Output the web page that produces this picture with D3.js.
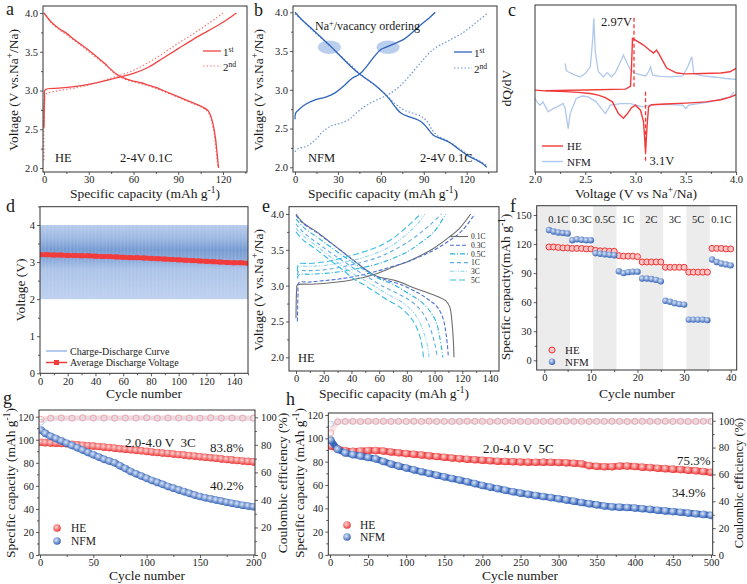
<!DOCTYPE html>
<html>
<head>
<meta charset="utf-8">
<script src="https://cdn.jsdelivr.net/npm/d3@7"></script>
<style>
body { margin: 0; background: #fff; }
</style>
</head>
<body>
<script>
'use strict';

// ---- a: HE, 0.1C, 1st / 2nd cycle (capacity, voltage)
const heCh1 = [[0,2.52],[0.4,2.9],[0.8,3.01],[10,3.03],[20,3.05],[30,3.08],[40,3.12],[50,3.17],[60,3.22],[70,3.3],[80,3.42],[90,3.54],[100,3.66],[110,3.77],[120,3.88],[129,4.0]];
const heDis1 = [[0,4.0],[2,3.95],[5,3.88],[10,3.8],[15,3.74],[20,3.66],[30,3.52],[40,3.36],[48,3.22],[55,3.15],[60,3.12],[65,3.1],[70,3.07],[75,3.04],[80,3.0],[90,2.92],[100,2.84],[106,2.79],[110,2.74],[112,2.66],[113.5,2.55],[115,2.38],[116,2.2],[117,2.0]];
const heCh2 = [[0,2.1],[0.3,2.9],[1,2.95],[10,3.0],[20,3.03],[30,3.07],[40,3.13],[50,3.19],[60,3.26],[70,3.36],[80,3.48],[90,3.61],[100,3.73],[110,3.86],[120,4.0]];
const heDis2 = [[0,4.0],[5,3.87],[10,3.79],[20,3.65],[30,3.5],[40,3.35],[48,3.21],[55,3.14],[60,3.11],[70,3.06],[80,2.99],[90,2.91],[100,2.83],[106,2.78],[110,2.72],[112,2.63],[114,2.45],[115.5,2.2],[116.5,2.0]];

// ---- b: NFM, 0.1C
const nfmCh1 = [[0,2.62],[0.5,2.7],[3,2.75],[8,2.82],[14,2.87],[22,2.91],[28,2.96],[34,3.05],[40,3.15],[45,3.2],[50,3.3],[55,3.42],[60,3.52],[65,3.56],[70,3.6],[76,3.65],[82,3.74],[88,3.84],[94,3.93],[98,4.0]];
const nfmDis1 = [[0,4.0],[5,3.9],[11,3.8],[18,3.68],[25,3.56],[32,3.43],[38,3.32],[44,3.22],[50,3.14],[56,3.06],[62,2.96],[66,2.88],[70,2.78],[74,2.7],[80,2.65],[86,2.61],[90,2.56],[94,2.47],[97,2.41],[102,2.37],[108,2.32],[114,2.24],[120,2.16],[126,2.1],[131,2.05],[134,2.0]];
const nfmCh2 = [[0,2.2],[2,2.24],[8,2.27],[14,2.35],[20,2.47],[26,2.54],[32,2.57],[38,2.62],[44,2.72],[50,2.8],[56,2.86],[62,2.91],[68,2.97],[74,3.06],[80,3.18],[86,3.31],[92,3.44],[98,3.54],[104,3.6],[110,3.66],[116,3.72],[122,3.8],[128,3.89],[134,3.98],[135,4.0]];
const nfmDis2 = [[0,3.98],[6,3.88],[12,3.77],[20,3.64],[30,3.47],[40,3.3],[46,3.2],[52,3.11],[58,3.03],[64,2.93],[70,2.82],[76,2.74],[82,2.7],[88,2.66],[92,2.6],[96,2.48],[100,2.4],[106,2.35],[112,2.28],[118,2.2],[124,2.13],[130,2.07],[134,2.02]];
const orderingSpots = [[24,3.55],[65,3.55]];

// ---- c: dQ/dV (voltage, arbitrary units)
const heCvCh = [[2.1,-0.25],[2.5,-0.18],[2.9,-0.08],[2.95,0.25],[2.96,2.5],[2.97,6.0],[3.0,5.8],[3.08,5.2],[3.15,4.5],[3.18,4.25],[3.21,4.6],[3.24,4.0],[3.31,2.45],[3.41,1.85],[3.5,1.75],[3.67,1.8],[3.85,1.85],[3.94,2.0],[4.0,2.4]];
const heCvDis = [[2.0,-0.2],[2.1,-0.28],[2.3,-0.38],[2.43,-0.46],[2.55,-0.6],[2.63,-0.8],[2.7,-1.1],[2.77,-1.6],[2.83,-3.0],[2.88,-3.55],[2.92,-3.0],[2.96,-2.3],[3.0,-2.0],[3.05,-2.6],[3.08,-4.0],[3.1,-7.6],[3.115,-4.5],[3.13,-2.2],[3.16,-1.95],[3.3,-1.85],[3.5,-1.75],[3.7,-1.6],[3.85,-1.35],[3.95,-1.0],[4.0,-0.75]];
const nfmCvCh = [[2.3,3.0],[2.31,2.2],[2.33,2.0],[2.4,1.6],[2.45,1.4],[2.5,1.8],[2.55,2.6],[2.575,6.0],[2.585,8.4],[2.6,4.4],[2.63,2.0],[2.68,1.4],[2.72,1.9],[2.76,1.4],[2.8,1.9],[2.85,3.2],[2.88,4.0],[2.91,3.2],[2.95,2.2],[3.0,1.8],[3.1,1.5],[3.13,2.0],[3.15,2.6],[3.17,1.6],[3.25,1.45],[3.35,1.4],[3.47,1.5],[3.52,2.6],[3.56,3.8],[3.58,1.8],[3.67,1.5],[3.8,1.35],[3.9,1.2],[4.0,1.1]];
const nfmCvDis = [[2.0,-1.2],[2.02,-1.6],[2.05,-2.0],[2.08,-1.6],[2.13,-2.8],[2.18,-2.4],[2.22,-2.2],[2.28,-1.8],[2.3,-2.4],[2.33,-4.8],[2.35,-3.0],[2.41,-1.2],[2.47,-0.9],[2.53,-1.0],[2.61,-1.6],[2.66,-2.4],[2.7,-3.0],[2.75,-2.0],[2.85,-1.8],[2.95,-1.8],[3.07,-2.2],[3.14,-2.0],[3.27,-1.9],[3.47,-2.0],[3.5,-2.4],[3.53,-2.0],[3.74,-1.6],[3.94,-1.0],[3.98,-0.4]];
const cPeaks = [{v: 2.985, from: 0.2, to: 8.6, label: '2.97V'}, {v: 3.1, from: -0.4, to: -8.8, label: '3.1V'}];

// ---- d: long cycling voltage
const dCycles = d3.range(0, 151);
const dWindow = [2, 4];
const dAvgCycles = d3.range(0, 151, 5);
const dAvg = [3.20,3.20,3.19,3.19,3.18,3.18,3.17,3.17,3.16,3.15,3.15,3.14,3.13,3.12,3.12,3.11,3.10,3.09,3.08,3.07,3.06,3.05,3.04,3.03,3.02,3.01,3.00,2.99,2.98,2.98,2.97];

// ---- e: HE rate curves
const eRates = ['0.1C', '0.3C', '0.5C', '1C', '3C', '5C'];
const eCharge = [
  [[0,2.55],[0.5,2.95],[1,3.01],[10,3.02],[20,3.03],[30,3.05],[40,3.08],[50,3.12],[55,3.15],[60,3.18],[65,3.22],[70,3.26],[80,3.33],[90,3.42],[100,3.53],[110,3.67],[118,3.8],[126,4.0]],
  [[1,2.5],[1.5,2.9],[2,3.04],[10,3.05],[20,3.07],[30,3.09],[40,3.12],[50,3.16],[60,3.21],[70,3.27],[80,3.33],[90,3.41],[100,3.5],[110,3.62],[120,3.77],[129,4.0]],
  [[1,3.1],[2,3.15],[10,3.16],[20,3.17],[30,3.19],[40,3.22],[50,3.26],[60,3.31],[70,3.38],[80,3.47],[90,3.6],[100,3.76],[108,4.0]],
  [[1,3.15],[2,3.2],[10,3.21],[20,3.22],[30,3.25],[40,3.29],[50,3.34],[60,3.4],[70,3.49],[80,3.6],[90,3.74],[98,3.87],[105,4.0]],
  [[1,3.18],[2,3.26],[10,3.27],[20,3.28],[30,3.31],[40,3.35],[50,3.4],[60,3.47],[70,3.57],[80,3.72],[88,3.87],[93,4.0]],
  [[1,3.2],[2,3.3],[10,3.31],[20,3.33],[30,3.37],[40,3.42],[50,3.48],[60,3.55],[70,3.66],[80,3.82],[90,4.0]]
];
const eDischarge = [
  [[0,4.0],[5,3.88],[15,3.75],[25,3.6],[35,3.45],[45,3.3],[52,3.2],[57,3.14],[62,3.11],[72,3.07],[85,2.97],[95,2.9],[102,2.85],[108,2.79],[111,2.7],[112.5,2.5],[113.5,2.25],[114,2.0]],
  [[0,3.98],[5,3.87],[15,3.74],[25,3.6],[35,3.45],[45,3.3],[52,3.2],[58,3.13],[65,3.08],[75,3.02],[88,2.9],[96,2.8],[102,2.7],[106,2.55],[108.5,2.3],[110,2.0]],
  [[0,3.93],[5,3.82],[15,3.68],[25,3.54],[35,3.4],[45,3.27],[55,3.15],[62,3.08],[70,3.02],[82,2.88],[90,2.78],[96,2.66],[101,2.5],[104,2.25],[106,2.0]],
  [[0,3.86],[5,3.75],[15,3.6],[25,3.46],[35,3.33],[45,3.2],[52,3.12],[60,3.02],[70,2.92],[80,2.82],[88,2.7],[93,2.57],[97,2.4],[100,2.2],[102,2.0]],
  [[0,3.8],[5,3.7],[15,3.55],[25,3.4],[35,3.25],[45,3.12],[52,3.05],[60,2.95],[70,2.84],[78,2.75],[85,2.62],[89,2.5],[93,2.3],[95,2.15],[96,2.0]],
  [[0,3.75],[5,3.64],[15,3.5],[25,3.35],[35,3.2],[42,3.09],[50,3.0],[58,2.9],[66,2.8],[75,2.7],[82,2.57],[86,2.46],[90,2.25],[92,2.0]]
];

// ---- f: rate capability
const fStages = ['0.1C', '0.3C', '0.5C', '1C', '2C', '3C', '5C', '0.1C'];
const fCycles = d3.range(1, 41);
const fHE = [117,117,116.5,116,116, 115.5,115.5,115.5,115,115, 113.5,113,113,112.5,112.5, 108,107.5,107.5,107.5,107, 101.5,101.5,101.5,101.5,101.5, 96,96,96,96,96, 91,91,91,91,91, 115.5,115.5,115.5,115,115];
const fNFM = [134.5,133,132,131.5,131, 124,125,124.5,124,124, 110.5,110,109.5,109,108.5, 92,90,91,91.5,91.5, 84.5,84.5,84,83,81.5, 61.5,60.5,59,58,57.5, 42,42,42,42,41.5, 104,101.5,100,99,98];

// ---- g: 3C cycling, 200 cycles
const gCycles = d3.range(0, 201, 5).map(c => Math.max(c, 1));
const gHE = [97.8,97.5,97.2,97.0,96.8,96.5,96.0,95.6,95.2,94.8,94.5,94.1,93.6,93.2,92.7,92.2,91.8,91.3,90.8,90.4,89.9,89.4,89.0,88.5,88.1,87.6,87.2,86.7,86.2,85.8,85.3,84.8,84.4,83.9,83.4,82.9,82.5,82.0,81.6,81.2,80.8];
const gNFM = [108.4,105.5,103,101,99,97,95,93,91,89,87,85,83,81.5,80,77.5,75,72.5,70.5,68.5,66.5,64.7,63,61.3,59.5,58,56.5,55,53.5,52,50.7,49.7,48.7,47.7,46.8,45.8,44.9,44,43.2,42.5,41.9];
const gCeCycles = d3.range(0, 201, 10).map(c => Math.max(c, 1));
const gCeHE = [98.6,99.5,99.6,99.4,99.7,99.5,99.6,99.3,99.6,99.5,99.7,99.4,99.6,99.5,99.6,99.4,99.7,99.5,99.6,99.4,99.5];
const gCeNFM = [96.5,99.2,99.4,99.3,99.5,99.4,99.2,99.5,99.3,99.4,99.6,99.3,99.4,99.5,99.3,99.4,99.5,99.3,99.4,99.5,99.3];

// ---- h: 5C cycling, 500 cycles
const hCycles = d3.range(0, 501, 10).map(c => Math.max(c, 1));
const hHE = [93.5,91,89.3,88.8,89.2,89.6,89.5,89.1,88.3,87.6,86.9,86.3,85.7,85.0,84.4,83.8,83.2,82.6,82.1,81.6,81.2,80.8,80.4,80.1,79.9,79.7,79.6,79.5,79.6,79.5,79.3,79.0,78.6,78.2,76.6,76.0,75.6,75.7,76.2,76.3,75.8,75.3,74.9,74.4,74.0,73.6,73.2,72.7,72.2,71.6,70.8];
const hNFM = [98.5,90.5,87.5,86,84.8,83.6,82.4,80.2,78.0,76.2,74.6,73.0,71.4,69.9,68.4,67.0,65.6,64.2,62.8,61.2,59.6,58.2,56.9,55.5,54.2,53.0,52.0,51.0,50.1,49.2,48.2,47.2,46.1,45.0,44.0,43.0,42.0,41.3,41.0,40.7,40.3,39.7,39.1,38.4,37.8,37.2,36.6,36.0,35.4,34.8,34.0];
const hCeHE = [91,99.3,99.5,99.6,99.4,99.6,99.5,99.7,99.4,99.6, 99.5,99.6,99.4,99.7,99.5,99.6,99.4,99.5,99.7,99.5, 99.6,99.4,99.6,99.5,99.7,99.5,99.4,99.6,99.5,99.6, 99.4,99.7,99.5,99.6,99.4,99.5,99.6,99.7,99.5,99.4, 99.6,99.5,99.6,99.4,99.7,99.5,99.6,99.4,99.5,99.6,99.5];
const hCeNFM = [97.5,99.0,99.3,99.4,99.3,99.5,99.4,99.3,99.5,99.4, 99.3,99.5,99.4,99.6,99.3,99.4,99.5,99.3,99.4,99.5, 99.4,99.3,99.5,99.4,99.6,99.4,99.3,99.5,99.4,99.3, 99.5,99.4,99.6,99.3,99.4,99.5,99.4,99.3,99.5,99.4, 99.3,99.5,99.4,99.6,99.4,99.3,99.5,99.4,99.3,99.5,99.4];

// ------------------------------------------------------------------
const RED = '#f04545', BLUE = '#2f63b8', sup = s => `<tspan baseline-shift="super" font-size="70%">${s}</tspan>`;

const svg = d3.select('body').append('svg')
    .attr('width', 747)
    .attr('height', 584)
    .style('font-family', "'Liberation Serif', 'Times New Roman', serif");
const defs = svg.append('defs');
let clipN = 0;

function ball(id, c0, c1) {
    const rg = defs.append('radialGradient').attr('id', id)
        .attr('cx', '40%').attr('cy', '38%').attr('r', '65%');
    rg.append('stop').attr('offset', '0%').attr('stop-color', c0);
    rg.append('stop').attr('offset', '100%').attr('stop-color', c1);
}
ball('ballHE', '#ffd6d6', '#ea3232');
ball('ballNFM', '#dce7fa', '#3060b5');

function drawAxis(g, gen, tx, ty) {
    const a = g.append('g').attr('transform', `translate(${tx},${ty})`).call(gen);
    a.select('.domain').remove();
    a.attr('font-family', null).attr('font-size', 10.5);
    a.selectAll('.tick line').attr('stroke', '#333').attr('stroke-width', 0.8);
    a.selectAll('.tick text').attr('fill', '#222');
    return a;
}

// frame + axes, returns a clipped group for the marks
function panel(box, x, y, o) {
    const [l, t, r, b] = box;
    const g = svg.append('g');
    const id = 'clip' + (clipN++);
    defs.append('clipPath').attr('id', id)
        .append('rect').attr('x', l).attr('y', t).attr('width', r - l).attr('height', b - t);
    const plot = g.append('g').attr('clip-path', `url(#${id})`);
    if (o.xMinor) drawAxis(g, d3.axisBottom(x).tickValues(o.xMinor).tickSize(2).tickFormat(''), 0, b);
    drawAxis(g, d3.axisBottom(x).tickValues(o.xTicks).tickSize(3).tickPadding(1)
        .tickFormat(o.xFmt || d3.format('d')), 0, b);
    if (o.yTicks) {
        if (o.yMinor) drawAxis(g, d3.axisLeft(y).tickValues(o.yMinor).tickSize(2).tickFormat(''), l, 0);
        drawAxis(g, d3.axisLeft(y).tickValues(o.yTicks).tickSize(3).tickPadding(2)
            .tickFormat(o.yFmt || d3.format('d')), l, 0);
    }
    if (o.y2) {
        drawAxis(g, d3.axisRight(o.y2).tickValues(o.y2Minor).tickSize(2).tickFormat(''), r, 0);
        drawAxis(g, d3.axisRight(o.y2).tickValues(o.y2Ticks).tickSize(3).tickPadding(3)
            .tickFormat(d3.format('d')), r, 0);
    }
    g.append('rect').attr('x', l).attr('y', t).attr('width', r - l).attr('height', b - t)
        .attr('fill', 'none').attr('stroke', '#333').attr('stroke-width', 1);
    return plot;
}

function text(x, y, html, size, anchor) {
    return svg.append('text').attr('x', x).attr('y', y)
        .attr('font-size', size || 13.5).attr('fill', '#1a1a1a')
        .attr('text-anchor', anchor || 'start').style('white-space', 'pre').html(html);
}
function ytext(x, y, html, size) {
    return svg.append('text').attr('transform', `translate(${x},${y}) rotate(-90)`)
        .attr('font-size', size || 13.5).attr('fill', '#1a1a1a')
        .attr('text-anchor', 'middle').html(html);
}
const curve = (x, y) => d3.line().x(d => x(d[0])).y(d => y(d[1])).curve(d3.curveCatmullRom.alpha(0.5));
function path(g, d, gen, color, width, dash) {
    return g.append('path').datum(d).attr('d', gen).attr('fill', 'none')
        .attr('stroke', color).attr('stroke-width', width).attr('stroke-dasharray', dash || null);
}

const capTitle = `Specific capacity (mAh g${sup('-1')})`;
const voltTitle = `Voltage (V vs.Na${sup('+')}/Na)`;

// ================= a =================
const ax = d3.scaleLinear().domain([0, 120]).range([44, 223]);
const ay = d3.scaleLinear().domain([2, 4]).range([168, 13]);
const pa = panel([43, 6, 247, 172], ax, ay, {
    xTicks: d3.range(0, 121, 30), xMinor: d3.range(15, 136, 30),
    yTicks: d3.range(2, 4.01, 0.5), yMinor: d3.range(2.25, 4.1, 0.5), yFmt: d3.format('.1f')
});
path(pa, heCh2, curve(ax, ay), '#f47c7c', 1.2, '1.5,2');
path(pa, heDis2, curve(ax, ay), '#f47c7c', 1.2, '1.5,2');
path(pa, heCh1, curve(ax, ay), RED, 1.3);
path(pa, heDis1, curve(ax, ay), RED, 1.3);
svg.append('line').attr('x1', 203).attr('x2', 221).attr('y1', 51).attr('y2', 51).attr('stroke', RED).attr('stroke-width', 1.3);
svg.append('line').attr('x1', 203).attr('x2', 221).attr('y1', 66).attr('y2', 66).attr('stroke', '#f47c7c').attr('stroke-width', 1.2).attr('stroke-dasharray', '1.5,2');
text(223, 56, `1${sup('st')}`, 11);
text(223, 71, `2${sup('nd')}`, 11);
text(55, 162, 'HE', 12.5);
text(120, 162, '2-4V 0.1C', 12.5);
text(145, 198, capTitle, 13.5, 'middle');
ytext(18, 90, voltTitle);
text(6, 15, 'a', 18);

// ================= b =================
const bx = d3.scaleLinear().domain([0, 120]).range([295, 466.7]);
const by = d3.scaleLinear().domain([2, 4]).range([167.3, 12.3]);
const pb = panel([293, 6, 497, 172], bx, by, {
    xTicks: d3.range(0, 121, 30), xMinor: d3.range(15, 136, 30),
    yTicks: d3.range(2, 4.01, 0.5), yMinor: d3.range(2.25, 4.1, 0.5), yFmt: d3.format('.1f')
});
pb.selectAll('ellipse').data(orderingSpots).join('ellipse')
    .attr('cx', d => bx(d[0])).attr('cy', d => by(d[1]))
    .attr('rx', 11.5).attr('ry', 6.7).attr('fill', '#a9c2ea').attr('opacity', 0.8);
path(pb, nfmCh2, curve(bx, by), '#6f95d8', 1.2, '1.5,2');
path(pb, nfmDis2, curve(bx, by), '#6f95d8', 1.2, '1.5,2');
path(pb, nfmCh1, curve(bx, by), BLUE, 1.3);
path(pb, nfmDis1, curve(bx, by), BLUE, 1.3);
svg.append('line').attr('x1', 454).attr('x2', 472).attr('y1', 52).attr('y2', 52).attr('stroke', BLUE).attr('stroke-width', 1.3);
svg.append('line').attr('x1', 454).attr('x2', 472).attr('y1', 68).attr('y2', 68).attr('stroke', '#6f95d8').attr('stroke-width', 1.2).attr('stroke-dasharray', '1.5,2');
text(474, 57, `1${sup('st')}`, 11);
text(474, 73, `2${sup('nd')}`, 11);
text(315, 30, `Na${sup('+')}/vacancy ordering`, 12);
text(308, 162, 'NFM', 12.5);
text(420, 162, '2-4V 0.1C', 12.5);
text(383, 198, capTitle, 13.5, 'middle');
ytext(263, 90, voltTitle);
text(254, 16, 'b', 18);

// ================= c =================
const cx = d3.scaleLinear().domain([2, 4]).range([535, 736]);
const cy = d3.scaleLinear().domain([-10, 10]).range([172, 5]);
const pc = panel([535, 5, 736, 172], cx, cy, {
    xTicks: d3.range(2, 4.01, 0.5), xMinor: d3.range(2.25, 4, 0.5), xFmt: d3.format('.1f')
});
const cLine = d3.line().x(d => cx(d[0])).y(d => cy(d[1]));
path(pc, nfmCvCh, cLine, '#b0c8ee', 1.3);
path(pc, nfmCvDis, cLine, '#b0c8ee', 1.3);
path(pc, heCvCh, cLine, '#f23a3a', 1.4);
path(pc, heCvDis, cLine, '#f23a3a', 1.4);
cPeaks.forEach(p => {
    pc.append('line').attr('x1', cx(p.v)).attr('x2', cx(p.v)).attr('y1', cy(p.from)).attr('y2', cy(p.to))
        .attr('stroke', '#f23a3a').attr('stroke-width', 1.3).attr('stroke-dasharray', '4,2.5');
});
text(cx(cPeaks[0].v) - 2, 26, cPeaks[0].label, 12.5, 'end');
text(cx(cPeaks[1].v) + 4, 165, cPeaks[1].label, 12.5);
svg.append('line').attr('x1', 542).attr('x2', 563).attr('y1', 146).attr('y2', 146).attr('stroke', '#f23a3a').attr('stroke-width', 1.4);
svg.append('line').attr('x1', 542).attr('x2', 563).attr('y1', 161.5).attr('y2', 161.5).attr('stroke', '#b0c8ee').attr('stroke-width', 1.4);
text(567, 150, 'HE', 11);
text(567, 166, 'NFM', 11);
text(636, 198, `Voltage (V vs Na${sup('+')}/Na)`, 13.5, 'middle');
ytext(511, 88, 'dQ/dV');
text(508, 16, 'c', 18);

// ================= d =================
const dx = d3.scaleLinear().domain([0, 150]).range([40, 248]);
const dy = d3.scaleLinear().domain([0, 4]).range([373.3, 225]);
const pd = panel([40, 206.7, 248, 373.3], dx, dy, {
    xTicks: d3.range(0, 141, 20), xMinor: d3.range(10, 151, 20),
    yTicks: d3.range(0, 5), yMinor: d3.range(0.5, 4.6, 1)
});
const dg = defs.append('linearGradient').attr('id', 'dBand').attr('gradientUnits', 'userSpaceOnUse')
    .attr('x1', 0).attr('x2', 0).attr('y1', dy(dWindow[1])).attr('y2', dy(dWindow[0]));
[[0, '#b4c9eb'], [0.2, '#8eaedd'], [0.33, '#6790cc'], [0.45, '#7c9fd6'], [0.6, '#a7c0e6'], [1, '#bccff0']]
    .forEach(([o, c]) => dg.append('stop').attr('offset', o).attr('stop-color', c));
pd.append('rect').attr('x', dx(0)).attr('width', dx(150) - dx(0))
    .attr('y', dy(dWindow[1])).attr('height', dy(dWindow[0]) - dy(dWindow[1]))
    .attr('fill', 'url(#dBand)');
pd.selectAll('line.cyc').data(dCycles).join('line').attr('class', 'cyc')
    .attr('x1', d => dx(d)).attr('x2', d => dx(d))
    .attr('y1', dy(dWindow[1])).attr('y2', dy(dWindow[0]))
    .attr('stroke', '#d6e2f5').attr('stroke-width', 0.5).attr('opacity', 0.55);
const dPts = dAvg.map((v, i) => [dAvgCycles[i], v]);
path(pd, dPts, d3.line().x(d => dx(d[0])).y(d => dy(d[1])), '#f23c3c', 4.5);
pd.selectAll('rect.sq').data(dPts).join('rect').attr('class', 'sq')
    .attr('x', d => dx(d[0]) - 2.5).attr('y', d => dy(d[1]) - 2.5).attr('width', 5).attr('height', 5)
    .attr('fill', '#f23c3c');
svg.append('line').attr('x1', 46).attr('x2', 67).attr('y1', 351).attr('y2', 351).attr('stroke', '#9dbbe8').attr('stroke-width', 1.5);
svg.append('line').attr('x1', 46).attr('x2', 67).attr('y1', 362.5).attr('y2', 362.5).attr('stroke', '#f23c3c').attr('stroke-width', 1.5);
svg.append('rect').attr('x', 54).attr('y', 360).attr('width', 5).attr('height', 5).attr('fill', '#f23c3c');
text(70, 354.5, 'Charge-Discharge Curve', 10);
text(70, 366, 'Average Discharge Voltage', 10);
text(144, 398, 'Cycle number', 13.5, 'middle');
ytext(25, 290, 'Voltage (V)');
text(6, 212, 'd', 18);

// ================= e =================
const ex = d3.scaleLinear().domain([0, 140]).range([296, 490]);
const ey = d3.scaleLinear().domain([2, 4]).range([357.3, 214]);
const pe = panel([289, 206.7, 499, 371], ex, ey, {
    xTicks: d3.range(0, 141, 20), xMinor: d3.range(10, 141, 20),
    yTicks: d3.range(2, 4.01, 0.5), yMinor: d3.range(2.25, 4.1, 0.5), yFmt: d3.format('.1f')
});
const eColor = ['#6d6d6d', '#4c6fd4', '#27b3dc', '#5eaae2', '#8dd3ec', '#37bde4'];
const eDash = [null, '4,2', '5,2,1,2', '4,3', '4,1.5,1,1.5,1,1.5', '6,3'];
eRates.forEach((r, i) => {
    path(pe, eCharge[i], curve(ex, ey), eColor[i], 1.1, eDash[i]);
    path(pe, eDischarge[i], curve(ex, ey), eColor[i], 1.1, eDash[i]);
    const ly = 236.5 + i * 8.7;
    svg.append('line').attr('x1', 450).attr('x2', 468).attr('y1', ly).attr('y2', ly)
        .attr('stroke', eColor[i]).attr('stroke-width', 1.1).attr('stroke-dasharray', eDash[i]);
    text(471, ly + 2.6, r, 7.5);
});
text(298, 362, 'HE', 12.5);
text(394, 398, capTitle, 13.5, 'middle');
ytext(263, 290, voltTitle);
text(262, 212, 'e', 18);

// ================= f =================
const fx = d3.scaleLinear().domain([0, 40]).range([544.3, 730.7]);
const fy = d3.scaleLinear().domain([0, 150]).range([360.3, 215]);
const pf = panel([536.7, 205.7, 736.7, 370], fx, fy, {
    xTicks: d3.range(0, 41, 10), xMinor: d3.range(5, 40, 10),
    yTicks: d3.range(0, 151, 30), yMinor: d3.range(15, 151, 30)
});
pf.selectAll('rect.stage').data(fStages.filter((s, i) => i % 2 === 0)).join('rect').attr('class', 'stage')
    .attr('x', (s, i) => i === 0 ? fx(-2) : fx(i * 10 + 0.5))
    .attr('width', (s, i) => i === 0 ? fx(5.5) - fx(-2) : fx(5) - fx(0))
    .attr('y', 205.7).attr('height', 370 - 205.7)
    .attr('fill', '#ececec');
fStages.forEach((s, i) => text(fx(i * 5 + 3), 223, s, 10.5, 'middle'));
pf.selectAll('circle.he').data(fHE).join('circle').attr('class', 'he')
    .attr('cx', (v, i) => fx(fCycles[i])).attr('cy', v => fy(v)).attr('r', 3)
    .attr('fill', '#ffc4c4').attr('stroke', '#ee3434').attr('stroke-width', 1);
pf.selectAll('circle.nfm').data(fNFM).join('circle').attr('class', 'nfm')
    .attr('cx', (v, i) => fx(fCycles[i])).attr('cy', v => fy(v)).attr('r', 3.2)
    .attr('fill', 'url(#ballNFM)');
svg.append('circle').attr('cx', 552).attr('cy', 350).attr('r', 3).attr('fill', '#ffc4c4').attr('stroke', '#ee3434');
svg.append('circle').attr('cx', 552).attr('cy', 361.7).attr('r', 3.2).attr('fill', 'url(#ballNFM)');
text(565, 354, 'HE', 11);
text(565, 366, 'NFM', 11);
text(637, 398, 'Cycle number', 13.5, 'middle');
ytext(510, 287, `Specific capacity(mAh g${sup('-1')})`);
text(510, 212, 'f', 18);

// ================= g & h =================
function cycling(plot, x, y, y2, cyc, he, nfm, ceCyc, ceHE, ceNFM) {
    [[ceNFM, '#b9cdef'], [ceHE, '#f4a3a3']].forEach(([d, c]) => {
        path(plot, d, d3.line().x((v, i) => x(ceCyc[i])).y(v => y2(v)), c, 5).attr('stroke-opacity', 0.3);
        plot.append('g').selectAll('circle').data(d).join('circle')
            .attr('cx', (v, i) => x(ceCyc[i])).attr('cy', v => y2(v)).attr('r', 3)
            .attr('fill', 'none').attr('stroke', c).attr('stroke-width', 0.8);
    });
    [[he, '#e84444', 'ballHE'], [nfm, '#3b68bd', 'ballNFM']].forEach(([d, c, fill]) => {
        path(plot, d, d3.line().x((v, i) => x(cyc[i])).y(v => y(v)), c, 6.5);
        plot.append('g').selectAll('circle').data(d).join('circle')
            .attr('cx', (v, i) => x(cyc[i])).attr('cy', v => y(v)).attr('r', 3.8)
            .attr('fill', `url(#${fill})`);
    });
}

const gx = d3.scaleLinear().domain([0, 200]).range([40, 253.3]);
const gy = d3.scaleLinear().domain([0, 120]).range([555, 416.7]);
const gy2 = d3.scaleLinear().domain([0, 100]).range([555, 417.3]);
const pg = panel([39, 410, 255, 555], gx, gy, {
    xTicks: d3.range(0, 201, 50), xMinor: d3.range(25, 200, 50),
    yTicks: d3.range(0, 121, 20), yMinor: d3.range(10, 121, 20),
    y2: gy2, y2Ticks: d3.range(0, 101, 20), y2Minor: d3.range(10, 101, 20)
});
cycling(pg, gx, gy, gy2, gCycles, gHE, gNFM, gCeCycles, gCeHE, gCeNFM);
text(125, 447, '2.0-4.0 V  3C', 13);
text(210, 452, '83.8%', 13);
text(210, 490, '40.2%', 13);
svg.append('circle').attr('cx', 57).attr('cy', 528).attr('r', 3.8).attr('fill', 'url(#ballHE)');
svg.append('circle').attr('cx', 57).attr('cy', 541).attr('r', 3.8).attr('fill', 'url(#ballNFM)');
text(71, 532, 'HE', 11.5);
text(71, 545, 'NFM', 11.5);
text(147, 580, 'Cycle number', 13.5, 'middle');
ytext(15, 483, capTitle);
ytext(287, 483, 'Coulombic efficiency (%)');
text(3, 404, 'g', 18);

const hx = d3.scaleLinear().domain([0, 500]).range([330, 711]);
const hy = d3.scaleLinear().domain([0, 120]).range([555, 415]);
const hy2 = d3.scaleLinear().domain([0, 100]).range([555, 420.7]);
const ph = panel([328.3, 413, 712.7, 555], hx, hy, {
    xTicks: d3.range(0, 501, 50), xMinor: d3.range(25, 500, 50),
    yTicks: d3.range(0, 121, 20), yMinor: d3.range(10, 121, 20),
    y2: hy2, y2Ticks: d3.range(0, 101, 20), y2Minor: d3.range(10, 101, 20)
});
cycling(ph, hx, hy, hy2, hCycles, hHE, hNFM, hCycles, hCeHE, hCeNFM);
text(483, 453, '2.0-4.0 V  5C', 13);
text(677, 465, '75.3%', 13);
text(672, 497, '34.9%', 13);
svg.append('circle').attr('cx', 347).attr('cy', 525).attr('r', 3.8).attr('fill', 'url(#ballHE)');
svg.append('circle').attr('cx', 347).attr('cy', 537).attr('r', 3.8).attr('fill', 'url(#ballNFM)');
text(360, 529, 'HE', 11.5);
text(360, 541, 'NFM', 11.5);
text(520, 580, 'Cycle number', 13.5, 'middle');
ytext(304, 483, capTitle);
ytext(743, 483, 'Coulombic efficiency (%)', 12.5);
text(286, 405, 'h', 18);
</script>
</body>
</html>
